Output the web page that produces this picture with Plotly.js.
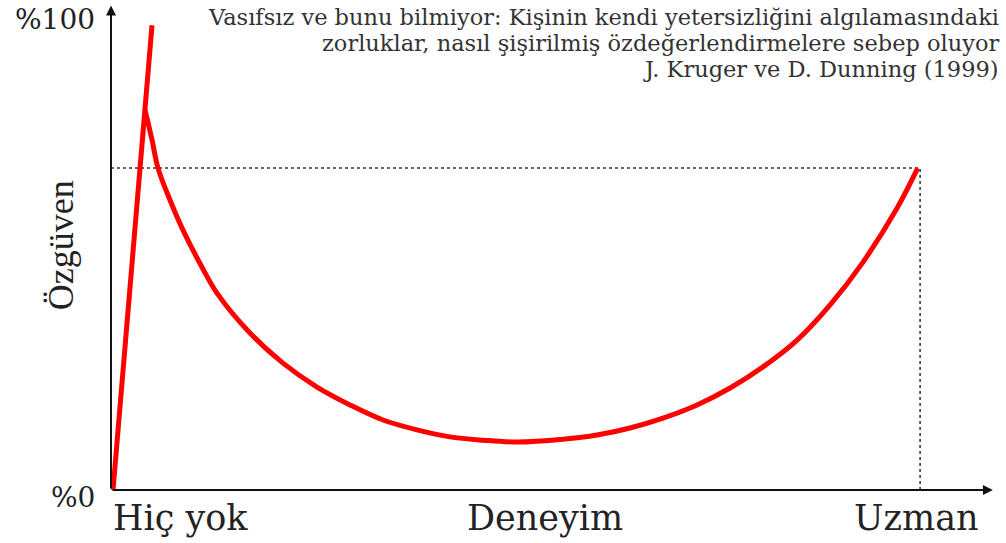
<!DOCTYPE html>
<html>
<head>
<meta charset="utf-8">
<script src="https://cdn.plot.ly/plotly-3.0.1.min.js"></script>
<style>html,body{margin:0;padding:0;background:#fff;}#chart{width:1006px;height:543px;}</style>
</head>
<body>
<div id="chart"></div>
<script>
// Rising part (confidence climbs fast with little experience)
const riseX = [0.25, 5.07];
const riseY = [0, 98.9];
// Falling / recovering curve (experience vs confidence, %)
const curveX = [4.20, 5.07, 5.81, 7.29, 8.90, 11.25, 13.10, 17.18, 21.26, 25.46, 29.54, 33.62, 37.82, 41.90, 45.98, 50.19, 55.87, 60.07, 64.15, 68.23, 72.44, 76.52, 80.59, 84.80, 88.88, 92.95, 97.16, 99.70];
const curveY = [80.9, 74.5, 68.5, 61.7, 55.3, 47.4, 41.9, 33.4, 27.0, 21.9, 18.1, 14.9, 12.8, 11.3, 10.6, 10.2, 10.8, 11.7, 13.2, 15.3, 18.1, 21.7, 26.2, 31.9, 39.4, 48.5, 60.0, 68.5];
// Expert reference level (dotted guides)
const expertX = 100;
const expertY = 68.5;
// Labels
const xLabels = ["Hiç yok", "Deneyim", "Uzman"];
const xLabelPos = [0, 53.6, 99.5];
const yLabels = ["%0", "%100"];
const yTitle = "Özgüven";
const titleLines = [
  "Vasıfsız ve bunu bilmiyor: Kişinin kendi yetersizliğini algılamasındaki",
  "zorluklar, nasıl şişirilmiş özdeğerlendirmelere sebep oluyor",
  "J. Kruger ve D. Dunning (1999)"
];

const serif = "'DejaVu Serif', 'Liberation Serif', serif";
const times = "'Liberation Serif', serif";
const traces = [
  {x: [0, expertX], y: [expertY, expertY], mode: "lines", line: {color: "#333", width: 1.5, dash: "dot"}},
  {x: [expertX, expertX], y: [0, expertY], mode: "lines", line: {color: "#333", width: 1.5, dash: "dot"}},
  {x: riseX, y: riseY, mode: "lines", line: {color: "#ff0000", width: 5}},
  {x: curveX, y: curveY, mode: "lines", line: {color: "#ff0000", width: 5, shape: "spline", smoothing: 1.0}}
];

const annotations = [
  // axis arrows
  {x: 109, y: 0, ax: 0, ay: 0, xref: "x", yref: "y", axref: "x", ayref: "y", showarrow: true, arrowhead: 2, arrowsize: 1, arrowwidth: 2, arrowcolor: "#111", text: ""},
  {x: 0, y: 103.1, ax: 0, ay: 0, xref: "x", yref: "y", axref: "x", ayref: "y", showarrow: true, arrowhead: 2, arrowsize: 1, arrowwidth: 2, arrowcolor: "#111", text: ""},
  // x labels
  {x: xLabelPos[0], y: -0.057, xref: "x", yref: "paper", text: xLabels[0], showarrow: false, xanchor: "left", yanchor: "middle", font: {family: serif, size: 35, color: "#222"}},
  {x: xLabelPos[1], y: -0.057, xref: "x", yref: "paper", text: xLabels[1], showarrow: false, xanchor: "center", yanchor: "middle", font: {family: serif, size: 35, color: "#222"}},
  {x: xLabelPos[2], y: -0.057, xref: "x", yref: "paper", text: xLabels[2], showarrow: false, xanchor: "center", yanchor: "middle", font: {family: serif, size: 35, color: "#222"}},
  // y labels
  {x: -0.016, y: -0.015, xref: "paper", yref: "paper", text: yLabels[0], showarrow: false, xanchor: "right", yanchor: "middle", font: {family: serif, size: 28, color: "#222"}},
  {x: -0.016, y: 0.97, xref: "paper", yref: "paper", text: yLabels[1], showarrow: false, xanchor: "right", yanchor: "middle", font: {family: serif, size: 28, color: "#222"}},
  {x: -0.056, y: 0.505, xref: "paper", yref: "paper", text: yTitle, showarrow: false, textangle: -90, xanchor: "center", yanchor: "middle", font: {family: times, size: 36, color: "#222"}}
];
// title block, one annotation per line (pixel rows ~20, 46, 72)
const titleRowsPaper = [0.975, 0.921, 0.868];
titleLines.forEach(function (t, i) {
  annotations.push({x: 1.0, y: titleRowsPaper[i], xref: "paper", yref: "paper", text: t, showarrow: false, xanchor: "right", yanchor: "middle", align: "right", font: {family: serif, size: 22.5, color: "#333"}});
});

const layout = {
  width: 1006, height: 543,
  margin: {l: 111, r: 5, t: 5, b: 53},
  paper_bgcolor: "#fff", plot_bgcolor: "#fff",
  showlegend: false,
  xaxis: {range: [0, 110], showgrid: false, zeroline: false, showline: false, showticklabels: false, ticks: ""},
  yaxis: {range: [0, 103.2], showgrid: false, zeroline: false, showline: false, showticklabels: false, ticks: ""},
  annotations: annotations
};
Plotly.newPlot("chart", traces, layout, {displayModeBar: false, staticPlot: true});
</script>
</body>
</html>
